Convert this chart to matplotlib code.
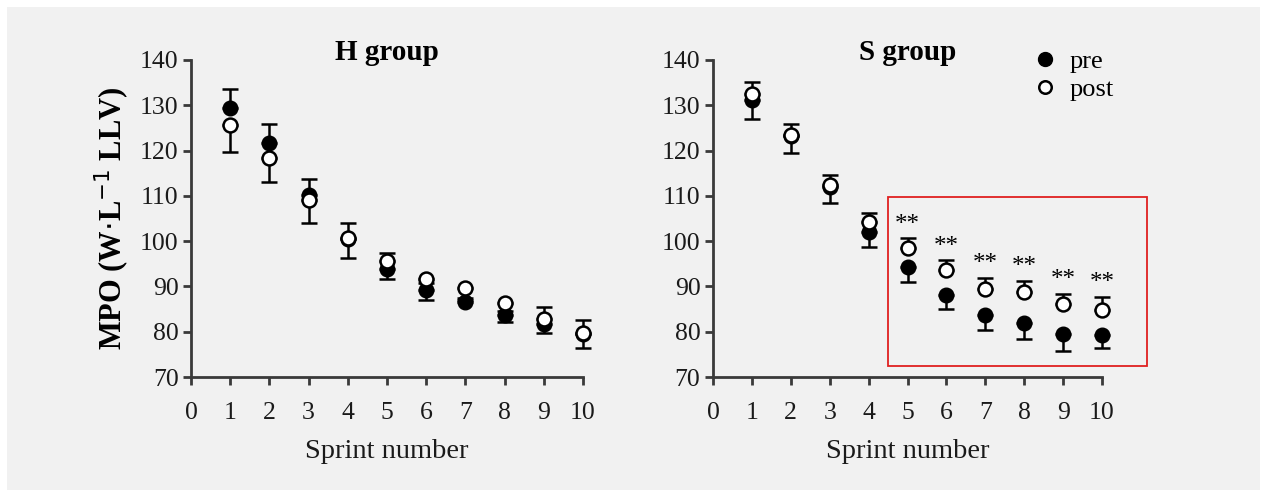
import matplotlib
matplotlib.use("Agg")
import matplotlib.pyplot as plt
from matplotlib.patches import Rectangle
from matplotlib.lines import Line2D

plt.rcParams['font.family'] = ['Liberation Serif', 'DejaVu Serif']

sprints = list(range(1, 11))

# H group
h_pre = [129.3, 121.7, 110.2, 100.5, 93.9, 89.2, 86.5, 83.6, 81.8, 79.5]
h_pre_err = [4.2, 4.2, 3.5, 3.6, 3.5, 1.5, 1.0, 1.0, 3.7, 3.0]
h_post = [125.6, 118.3, 109.0, 100.6, 95.6, 91.7, 89.6, 86.4, 82.9, 79.7]
h_post_err = [5.9, 5.2, 5.0, 4.4, 3.9, 4.7, 2.6, 4.2, 3.2, 3.4]

# S group
s_pre = [131.1, 123.2, 112.0, 102.1, 94.2, 88.0, 83.6, 81.9, 79.6, 79.2]
s_pre_err = [4.2, 3.8, 3.5, 3.4, 3.3, 2.9, 3.3, 3.4, 3.9, 2.9]
s_post = [132.4, 123.5, 112.5, 104.3, 98.4, 93.7, 89.5, 88.8, 86.2, 84.9]
s_post_err = [2.7, 2.3, 2.1, 1.9, 2.2, 2.1, 2.4, 2.4, 2.2, 2.8]
s_sig = [5, 6, 7, 8, 9, 10]

W, H = 1267, 497
fig = plt.figure(figsize=(W / 100, H / 100), dpi=100, facecolor='white')
fig.patches.append(Rectangle((7 / W, 7 / H), 1 - 14 / W, 1 - 14 / H,
                             transform=fig.transFigure, facecolor='#f1f1f1',
                             edgecolor='none', zorder=-10))

spine_col = '#3a3a3a'


def make_axes(x0, x1):
    ax = fig.add_axes([x0 / W, 1 - 377 / H, (x1 - x0) / W, (377 - 60) / H])
    ax.set_facecolor('none')
    ax.set_xlim(0, 10)
    ax.set_ylim(70, 140)
    ax.set_xticks(range(0, 11))
    ax.set_yticks(range(70, 141, 10))
    for s in ['top', 'right']:
        ax.spines[s].set_visible(False)
    for s in ['left', 'bottom']:
        ax.spines[s].set_color(spine_col)
        ax.spines[s].set_linewidth(2.0)
    ax.tick_params(direction='out', length=6, width=2.0, color=spine_col,
                   labelsize=18.5, labelcolor='#1a1a1a')
    ax.tick_params(axis='x', pad=12)
    ax.tick_params(axis='y', pad=3)
    ax.set_xlabel('Sprint number', fontsize=20.5, labelpad=11, color='#1a1a1a')
    return ax


def draw(ax, pre, pre_err, post, post_err, pre_dir, post_dir):
    pre_yerr = [[0] * 10, pre_err] if pre_dir == 'up' else [pre_err, [0] * 10]
    post_yerr = [[0] * 10, post_err] if post_dir == 'up' else [post_err, [0] * 10]
    ax.errorbar(sprints, pre, yerr=pre_yerr, fmt='o', color='black', ms=10.5,
                mfc='black', mec='black', elinewidth=1.8, capsize=6, capthick=1.8,
                clip_on=False, zorder=3)
    ax.errorbar(sprints, post, yerr=post_yerr, fmt='o', color='black', ms=10,
                mfc='white', mec='black', mew=1.8, elinewidth=1.8, capsize=6,
                capthick=1.8, clip_on=False, zorder=4)


ax1 = make_axes(191, 583)
draw(ax1, h_pre, h_pre_err, h_post, h_post_err, 'up', 'down')
ax1.set_ylabel('MPO (W$\\cdot$L$^{-1}$ LLV)', fontsize=22, fontweight='bold',
               labelpad=6)
ax1.text(0.5, 1.0, 'H group', transform=ax1.transAxes, ha='center',
         va='baseline', fontsize=21, fontweight='bold')

ax2 = make_axes(713, 1102)
draw(ax2, s_pre, s_pre_err, s_post, s_post_err, 'down', 'up')
ax2.text(0.5, 1.0, 'S group', transform=ax2.transAxes, ha='center',
         va='baseline', fontsize=21, fontweight='bold')
for x in s_sig:
    i = x - 1
    ax2.text(x, s_post[i] + s_post_err[i] + 3.0, '**', ha='center', va='center',
             fontsize=18)

ax2.add_patch(Rectangle((4.49, 72.5), 11.16 - 4.49, 109.8 - 72.5, fill=False,
                        edgecolor='#e02020', linewidth=1.3, clip_on=False))

handles = [Line2D([], [], ls='none', marker='o', ms=10, mfc='black', mec='black'),
           Line2D([], [], ls='none', marker='o', ms=9, mfc='white', mec='black', mew=1.8)]
ax2.legend(handles, ['pre', 'post'], loc='upper left', bbox_to_anchor=(0.8, 1.065),
           frameon=False, fontsize=19, handlelength=0.8, handletextpad=0.5,
           labelspacing=0.15, borderaxespad=0)

fig.savefig('out.png', dpi=100, facecolor=fig.get_facecolor())
